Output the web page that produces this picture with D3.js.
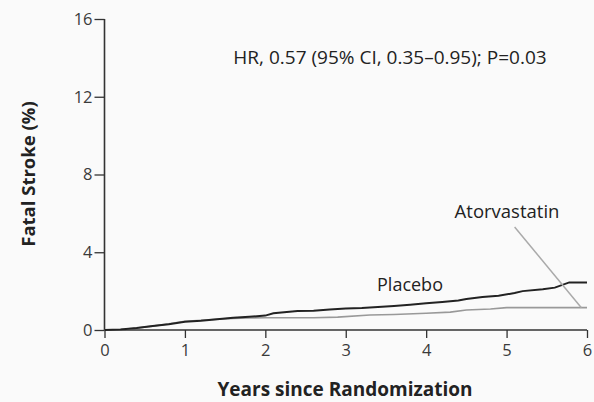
<!DOCTYPE html>
<html><head><meta charset="utf-8">
<script src="https://cdn.jsdelivr.net/npm/d3@7"></script>
<style>body{margin:0;background:#fafafa;} svg{display:block;}</style>
</head><body>
<script>
const yTicks = [0, 4, 8, 12, 16];
const xTicks = [0, 1, 2, 3, 4, 5, 6];
const placeboYears = [0, 0.2, 0.4, 0.6, 0.8, 1.0, 1.2, 1.4, 1.6, 1.8, 2.0, 2.1, 2.4, 2.6, 2.8, 3.0, 3.2, 3.4, 3.6, 3.8, 4.0, 4.2, 4.4, 4.5, 4.7, 4.9, 5.1, 5.2, 5.45, 5.6, 5.78, 6.0];
const placeboVals  = [0, 0.02, 0.1, 0.2, 0.3, 0.42, 0.47, 0.55, 0.63, 0.68, 0.74, 0.86, 0.98, 0.99, 1.06, 1.1, 1.13, 1.18, 1.24, 1.3, 1.37, 1.44, 1.52, 1.6, 1.7, 1.76, 1.9, 2.0, 2.1, 2.18, 2.45, 2.45];
const atorvaYears = [0, 0.2, 0.4, 0.6, 0.8, 1.0, 1.2, 1.4, 1.6, 1.8, 2.0, 2.3, 2.6, 2.9, 3.3, 3.6, 4.0, 4.3, 4.5, 4.8, 5.0, 6.0];
const atorvaVals  = [0, 0.02, 0.1, 0.2, 0.32, 0.45, 0.5, 0.55, 0.6, 0.62, 0.63, 0.63, 0.63, 0.66, 0.77, 0.8, 0.86, 0.92, 1.03, 1.08, 1.15, 1.15];

const W = 594, H = 402;
const svg = d3.select("body").append("svg").attr("width", W).attr("height", H)
  .style("font-family", "'Open Sans', sans-serif");

const x = d3.scaleLinear().domain([0, 6]).range([104.5, 587]);
const y = d3.scaleLinear().domain([0, 16]).range([330, 19]);

const axisColor = "#333";
const gx = svg.append("g").attr("transform", "translate(0,330)")
  .call(d3.axisBottom(x).tickValues(xTicks).tickSize(8).tickPadding(6).tickFormat(d3.format("d")));
const gy = svg.append("g").attr("transform", "translate(104.5,0)")
  .call(d3.axisLeft(y).tickValues(yTicks).tickSize(10).tickPadding(2).tickFormat(d3.format("d")));
[gx, gy].forEach(g => {
  g.select(".domain").attr("stroke", axisColor).attr("stroke-width", 1.6);
  g.selectAll(".tick line").attr("stroke", axisColor).attr("stroke-width", 1.3);
  g.selectAll(".tick text").attr("fill", "#3a3a3a").style("font-size", "16.5px").style("font-family", "'Open Sans', sans-serif");
});
gx.select(".domain").attr("d", `M${x(0)},0H${x(6)}`);
gy.select(".domain").attr("d", `M0,${y(16)}V${y(0)}`);

const line = d3.line().x(d => x(d[0])).y(d => y(d[1])).curve(d3.curveLinear);

const atorva = atorvaYears.map((t, i) => [t, atorvaVals[i]]);
const placebo = placeboYears.map((t, i) => [t, placeboVals[i]]);

svg.append("path").datum(atorva).attr("d", line)
  .attr("fill", "none").attr("stroke", "#999").attr("stroke-width", 1.6);
svg.append("path").datum(placebo).attr("d", line)
  .attr("fill", "none").attr("stroke", "#222").attr("stroke-width", 2);

// leader line
svg.append("line").attr("x1", x(5.1)).attr("y1", y(5.3)).attr("x2", x(5.93)).attr("y2", y(1.15))
  .attr("stroke", "#aaa").attr("stroke-width", 1.5);

svg.append("text").attr("x", 410).attr("y", 291).attr("text-anchor", "middle")
  .style("font-size", "18px").attr("fill", "#222").text("Placebo");
svg.append("text").attr("x", 507).attr("y", 218).attr("text-anchor", "middle")
  .style("font-size", "18.5px").attr("fill", "#222").text("Atorvastatin");
svg.append("text").attr("x", 390).attr("y", 64).attr("text-anchor", "middle")
  .style("font-size", "19px").attr("fill", "#222").text("HR, 0.57 (95% CI, 0.35\u20130.95); P=0.03");

svg.append("text").attr("x", 345).attr("y", 396).attr("text-anchor", "middle")
  .style("font-size", "19px").style("font-weight", "bold").attr("fill", "#222").text("Years since Randomization");
svg.append("text").attr("transform", "translate(35,174) rotate(-90)").attr("text-anchor", "middle")
  .style("font-size", "18.5px").style("font-weight", "bold").attr("fill", "#222").text("Fatal Stroke (%)");
</script>
</body></html>
